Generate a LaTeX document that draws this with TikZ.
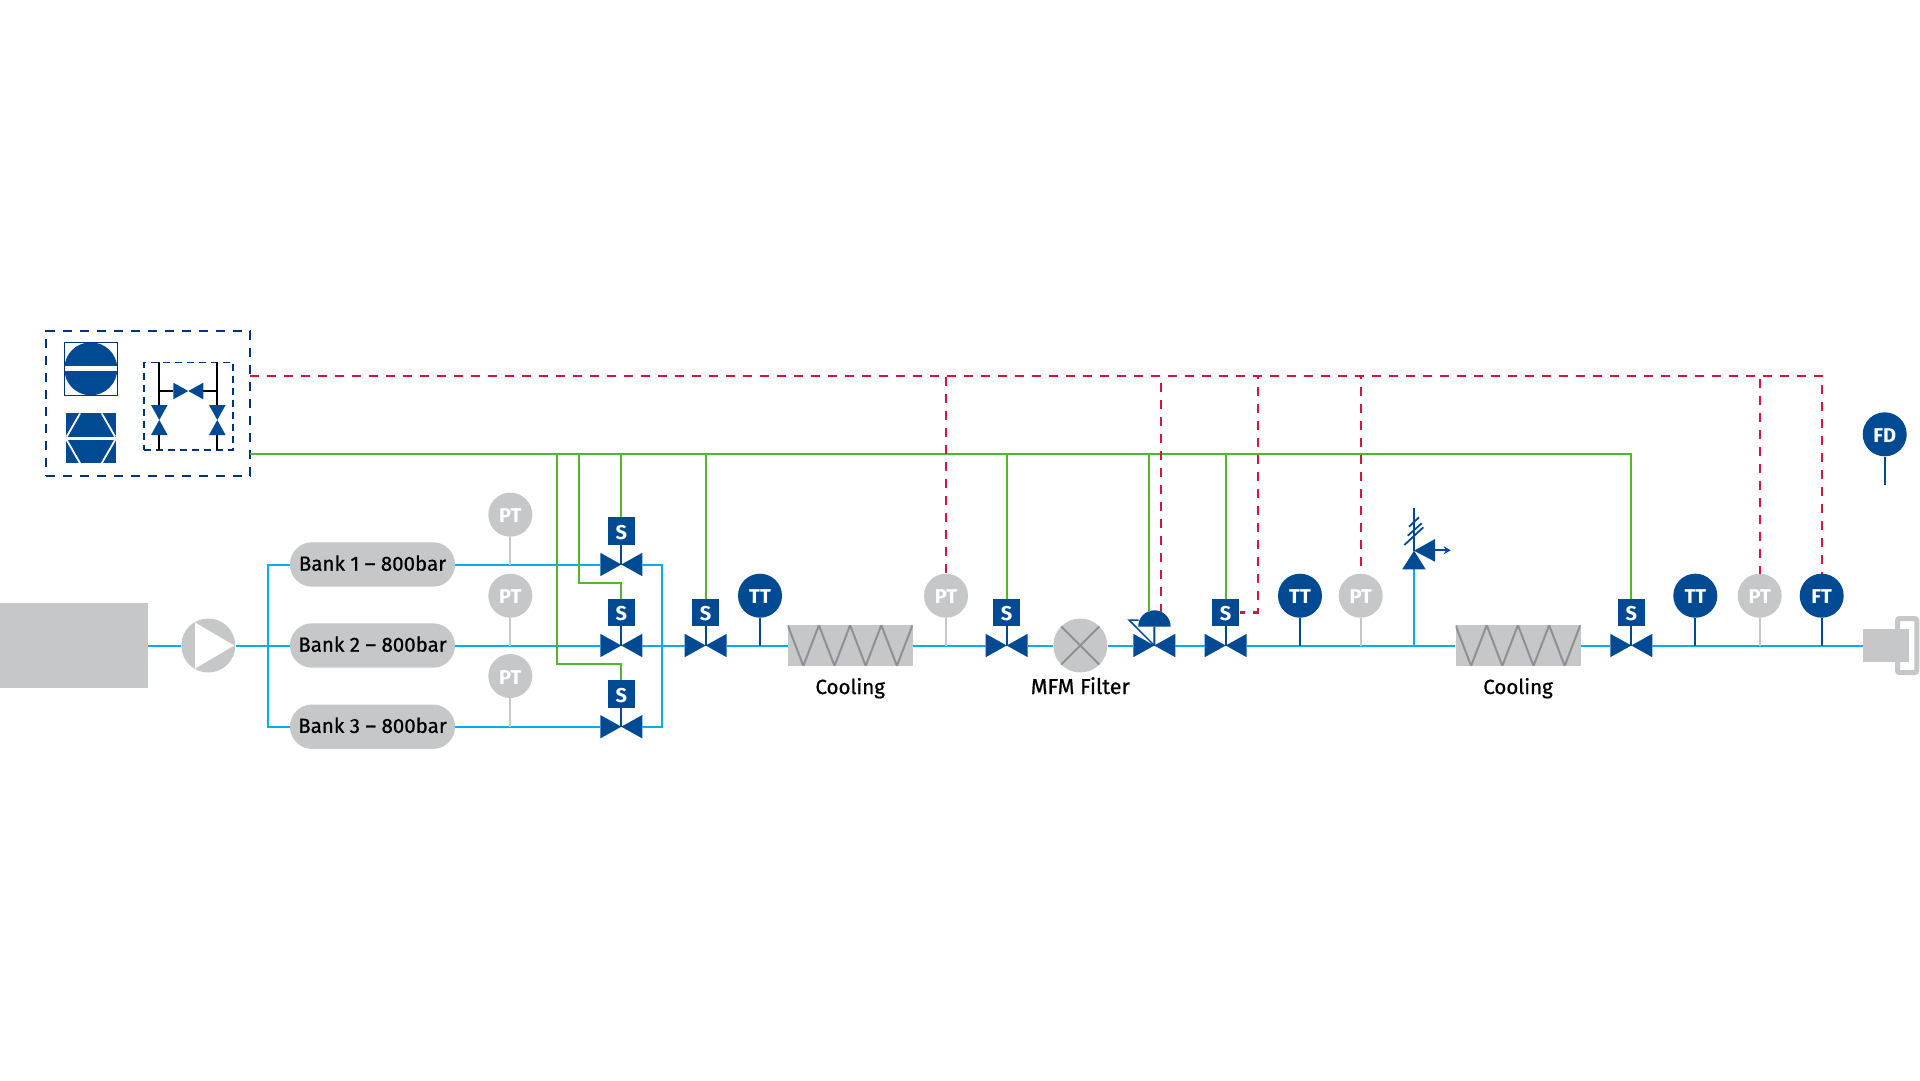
\documentclass[tikz,border=0pt]{standalone}
\usepackage{fontspec}
\setmainfont{Fira Sans}[UprightFeatures={FakeBold=0.7},BoldFeatures={FakeBold=0}]
\usetikzlibrary{arrows.meta,shapes.geometric}

\definecolor{navy}{HTML}{004A93}
\definecolor{boxnavy}{HTML}{00337F}
\definecolor{pipeblue}{HTML}{00AEEF}
\definecolor{airgreen}{HTML}{4FB82D}
\definecolor{sigred}{HTML}{D7143F}
\definecolor{stdgrey}{HTML}{C6C7C9}
\definecolor{coilgrey}{HTML}{8E9093}

\tikzset{
  valve/.style={minimum width=42pt,minimum height=23.4pt,inner sep=0pt,outer sep=0pt,
    path picture={\fill[navy] (path picture bounding box.south west) -- (path picture bounding box.north west)
      -- (path picture bounding box.south east) -- (path picture bounding box.north east) -- cycle;}},
  smallvalve/.style={valve,minimum width=30pt,minimum height=16.6pt},
  uprightvalve/.style={minimum width=16.6pt,minimum height=30pt,inner sep=0pt,outer sep=0pt,
    path picture={\fill[navy] (path picture bounding box.south west) -- (path picture bounding box.south east)
      -- (path picture bounding box.north west) -- (path picture bounding box.north east) -- cycle;}},
  sbox/.style={rectangle,fill=navy,text=white,minimum size=27.3pt,inner sep=0pt,text height=16pt,text depth=0pt,font=\fontsize{20}{24}\selectfont\bfseries},
  meter/.style={circle,fill=navy,text=white,minimum size=44pt,inner sep=0pt,text height=16pt,text depth=0pt,font=\fontsize{20}{24}\selectfont\bfseries},
  greymeter/.style={meter,fill=stdgrey},
  bank/.style={rectangle,rounded corners=22pt,fill=stdgrey,minimum width=165pt,minimum height=44.4pt,inner sep=0pt,text height=12.4pt,text depth=0pt,font=\fontsize{20.5}{24}\selectfont},
  cooler/.style={rectangle,fill=stdgrey,minimum width=125pt,minimum height=40.7pt,inner sep=0pt,
    path picture={\draw[coilgrey,line width=2pt] (-62.5,-20.35) -- ++(15.6,40.7) -- ++(15.6,-40.7) -- ++(15.6,40.7)
      -- ++(15.6,-40.7) -- ++(15.6,40.7) -- ++(15.6,-40.7) -- ++(15.6,40.7) -- ++(15.6,-40.7);}},
  caption/.style={inner sep=0pt,anchor=base,font=\fontsize{20.5}{24}\selectfont},
  ctrlbox/.style={rectangle,draw=boxnavy,line width=1.8pt,dash pattern=on 9pt off 8pt,inner sep=0pt}
}

\begin{document}
\begin{tikzpicture}[x=1pt,y=-1pt]
    \useasboundingbox[fill=white] (0,0) rectangle (1920,1080);

    % control cabinet
    \node[ctrlbox,minimum width=204pt,minimum height=144.7pt] (cab) at (148,403.3) {};
    \node[ctrlbox,line width=1.5pt,dash pattern=on 7pt off 5pt,minimum width=89pt,minimum height=87.7pt] (man) at (188.5,406.2) {};
    \node[rectangle,draw=boxnavy,line width=1pt,minimum size=53pt,inner sep=0pt,
      path picture={\fill[navy] (0,0) circle[radius=26.5pt];
        \fill[white] (-26.5,-2.5) rectangle (26.5,2.5);}] (disp) at (90.8,368.8) {};
    \node[rectangle,fill=navy,minimum width=50.3pt,minimum height=50pt,inner sep=0pt,
      path picture={\draw[white,line width=3pt] (-26,0) -- (26,0);
        \draw[white,line width=1.8pt] (-10.8,-25) -- (-24.2,-1.7) (10.8,-25) -- (24.2,-1.7)
          (-10.8,25) -- (-24.2,1.7) (10.8,25) -- (24.2,1.7);}] (comp) at (90.9,438.3) {};
    \node[smallvalve] (mv1) at (188.3,391) {};
    \node[uprightvalve] (mv2) at (159.3,420) {};
    \node[uprightvalve] (mv3) at (217.3,420) {};
    \coordinate (mj1) at (159.3,391);
    \coordinate (mj2) at (217.3,391);
    \coordinate (mt1) at (159.3,362.3);
    \coordinate (mt2) at (217.3,362.3);
    \coordinate (mb1) at (159.3,450);
    \coordinate (mb2) at (217.3,450);

    % storage side
    \node[rectangle,fill=stdgrey,minimum width=148pt,minimum height=85.3pt,inner sep=0pt] (tank) at (74,645.5) {};
    \node[circle,fill=stdgrey,minimum size=54pt,inner sep=0pt,
      path picture={\fill[white] (-13.3,-23) -- (-13.3,23) -- (26,0) -- cycle;}] (pump) at (208.3,645.5) {};
    \node[bank] (b1) at (372.5,564.5) {Bank 1 – 800bar};
    \node[bank] (b2) at (372.5,645.5) {Bank 2 – 800bar};
    \node[bank] (b3) at (372.5,726.7) {Bank 3 – 800bar};
    \coordinate (busin) at (267.7,645.5);
    \coordinate (busout) at (662,645.5);

    \node[valve] (vb1) at (621.3,564.5) {};
    \node[valve] (vb2) at (621.3,645.5) {};
    \node[valve] (vb3) at (621.3,726.7) {};
    \node[sbox] (sb1) at (621.3,531) {S};
    \node[sbox] (sb2) at (621.3,612.5) {S};
    \node[sbox] (sb3) at (621.3,694) {S};
    \node[greymeter] (ptb1) at (510.3,514.7) {PT};
    \node[greymeter] (ptb2) at (510.3,595.7) {PT};
    \node[greymeter] (ptb3) at (510.3,676) {PT};

    % main line
    \node[valve] (v1) at (705.7,645.5) {};
    \node[sbox] (s1) at (705.7,612.5) {S};
    \node[meter] (tt1) at (760,595.7) {TT};
    \node[cooler] (cool1) at (850.2,645.5) {};
    \node[caption] (cap1) at (850.2,694) {Cooling};
    \node[greymeter] (pt1) at (946,595.7) {PT};
    \node[valve] (v2) at (1006.7,645.5) {};
    \node[sbox] (s2) at (1006.7,612.5) {S};
    \node[circle,fill=stdgrey,minimum size=54pt,inner sep=0pt,
      path picture={\draw[coilgrey,line width=2pt] (-20,-20) -- (20,20) (-20,20) -- (20,-20);}] (filt) at (1080.3,645.5) {};
    \node[caption,font=\fontsize{21.5}{24}\selectfont] (cap2) at (1080.3,694) {MFM Filter};
    \node[valve] (v3) at (1154.3,645.5) {};
    \node[semicircle,fill=navy,minimum width=32.4pt,minimum height=16.2pt,inner sep=0pt,anchor=chord center] (act) at (1154.4,626.7) {};
    \node[valve] (v4) at (1225.7,645.5) {};
    \node[sbox] (s4) at (1225.7,612.5) {S};
    \node[meter] (tt2) at (1300,595.7) {TT};
    \node[greymeter] (pt2) at (1360.7,595.7) {PT};
    \node[cooler] (cool2) at (1518,645.5) {};
    \node[caption] (cap3) at (1518,694) {Cooling};
    \node[valve] (v5) at (1631.3,645.5) {};
    \node[sbox] (s5) at (1631.3,612.5) {S};
    \node[meter] (tt3) at (1695.3,595.7) {TT};
    \node[greymeter] (pt3) at (1759.7,595.7) {PT};
    \node[meter] (ft) at (1821.7,595.7) {FT};
    \node[meter] (fd) at (1884.7,434.3) {FD};
    \coordinate (fdend) at (1884.7,484.7);
    \node[rectangle,fill=stdgrey,minimum width=45.7pt,minimum height=32.7pt,inner sep=0pt] (hose) at (1886.2,645.5) {};

    % relief valve
    \coordinate (rv) at (1414,550.7);
    \coordinate (rvbase) at (1414,569.3);
    \coordinate (rvtop) at (1414,508.3);

    % pipes
    \begin{scope}[every edge/.style={draw=pipeblue,line width=2pt}]
      \path (tank) edge (pump);
      \path (pump) edge (b2);
      \path (b1) edge (vb1);
      \path (b2) edge (vb2);
      \path (b3) edge (vb3);
      \path (vb2) edge (v1);
      \path (v1) edge (cool1);
      \path (cool1) edge (v2);
      \path (v2) edge (filt);
      \path (filt) edge (v3);
      \path (v3) edge (v4);
      \path (v4) edge (cool2);
      \path (cool2) edge (v5);
      \path (v5) edge (hose);
      \path (rvbase) edge (rvbase |- v4);
    \end{scope}
    \draw[pipeblue,line width=2pt] (b1.west) -| (busin) |- (b3.west);
    \draw[pipeblue,line width=2pt] (vb1.east) -| (busout) |- (vb3.east);

    % stems
    \begin{scope}[every edge/.style={draw=stdgrey,line width=2pt}]
      \path (ptb1) edge (ptb1 |- b1);
      \path (ptb2) edge (ptb2 |- b2);
      \path (ptb3) edge (ptb3 |- b3);
      \path (pt1) edge (pt1 |- v1);
      \path (pt2) edge (pt2 |- v1);
      \path (pt3) edge (pt3 |- v1);
    \end{scope}
    \begin{scope}[every edge/.style={draw=navy,line width=2pt}]
      \path (tt1) edge (tt1 |- v1);
      \path (tt2) edge (tt2 |- v1);
      \path (tt3) edge (tt3 |- v1);
      \path (ft) edge (ft |- v1);
      \path (fd) edge (fdend);
      \path (sb1) edge (vb1.center);
      \path (sb2) edge (vb2.center);
      \path (sb3) edge (vb3.center);
      \path (s1) edge (v1.center);
      \path (s2) edge (v2.center);
      \path (s4) edge (v4.center);
      \path (s5) edge (v5.center);
      \path (act.chord center) edge (v3.center);
      \path (rv) edge (rvtop);
    \end{scope}

    % manifold in cabinet
    \begin{scope}[every edge/.style={draw=black,line width=1.8pt}]
      \path (mt1) edge (mv2);
      \path (mb1) edge (mv2);
      \path (mt2) edge (mv3);
      \path (mb2) edge (mv3);
      \path (mj1) edge (mv1);
      \path (mj2) edge (mv1);
    \end{scope}

    % control air
    \coordinate (ga) at (250,454.3);
    \coordinate (gj1) at (557.3,664.3);
    \coordinate (gj2) at (579,583);
    \coordinate (gact) at (1149,612);
    \begin{scope}[airgreen,line width=2.2pt]
      \draw (ga) -| (s5.north);
      \draw (ga) -| (sb1.north);
      \draw (ga) -| (gj1) -| (sb3.north);
      \draw (ga) -| (gj2) -| (sb2.north);
      \draw (ga) -| (s1.north);
      \draw (ga) -| (s2.north);
      \draw (ga) -| (gact);
      \draw (ga) -| (s4.north);
    \end{scope}

    % signal lines
    \coordinate (sg) at (250,375.7);
    \coordinate (sgact) at (1161,612);
    \coordinate (sgs4) at (1258.3,612.5);
    \begin{scope}[sigred,line width=2.2pt,dash pattern=on 9pt off 8pt]
      \draw (sg) -| (ft.north);
      \draw (sg) -| (pt1.north);
      \draw (sg) -| (sgact);
      \draw (sg) -| (sgs4) -- (s4.east);
      \draw (sg) -| (pt2.north);
      \draw (sg) -| (pt3.north);
    \end{scope}

    % symbols
    \draw[navy,line width=1.5pt] (1154.3,645.5) -- (1129,620) -- (1138.5,620);
    \fill[navy] (rv) -- (1402.3,569.3) -- (1425.7,569.3) -- cycle;
    \fill[navy] (rv) -- (1435,539) -- (1435,561.7) -- cycle;
    \draw[navy,line width=1.8pt,-{Stealth[length=7pt,width=8pt]}] (1435,550.3) -- (1450.7,550.3);
    \draw[navy,line width=1.8pt] (1404.3,545) -- (1423.3,527.3) (1407.7,535.7) -- (1421.7,523.3) (1409,526.7) -- (1419,517.3);
    \draw[stdgrey,line width=5pt,rounded corners=2pt] (1897.5,629) -- (1897.5,618.5) -- (1916.8,618.5) -- (1916.8,672.5) -- (1897.5,672.5) -- (1897.5,661.8);
\end{tikzpicture}
\end{document}
